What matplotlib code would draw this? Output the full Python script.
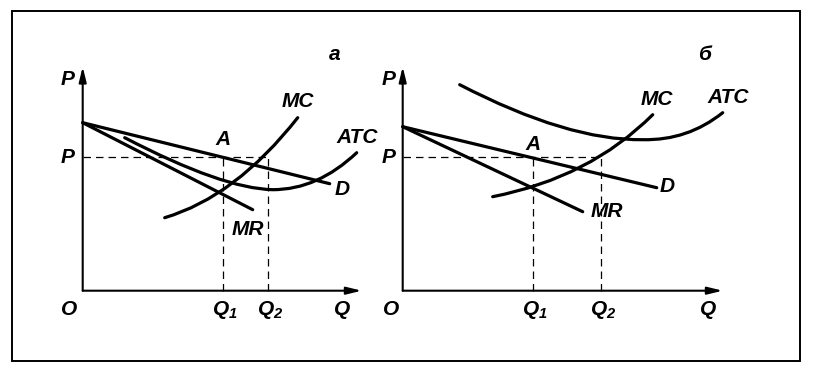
import matplotlib.pyplot as plt
from matplotlib.path import Path
from matplotlib.patches import PathPatch, Rectangle

# Монополистическая конкуренция: а) прибыль, б) убытки
# координаты кривых в условных единицах (Q, P), начало осей в точке O

# панель а
d_a = [(0, 168), (247, 107)]
mr_a = [(0, 168), (170, 81)]
mc_a = [(82, 73), (153, 94), (215, 173)]            # квадратичная Безье
atc_a = [(42, 153), (140, 102), (190, 101), (235, 101), (274, 138)]
p_a = 134
q1_a, q2_a = 140, 185
qmax_a, pmax_a = 279, 224

# панель б
d_b = [(0, 164), (254, 103)]
mr_b = [(0, 164), (180, 79)]
mc_b = [(90, 94), (187, 113), (250, 176)]
atc_b = [(57, 206), (165, 150), (240, 151), (285, 150), (320, 178)]
p_b = 134
q1_b, q2_b = 130, 198
qmax_b, pmax_b = 320, 224

# подписи: текст, Q, P
labels_a = [("а", 252, 236), ("P", -15, 211), ("P", -15, 133), ("O", -14, -19),
            ("$Q_1$", q1_a + 2, -19), ("$Q_2$", q2_a + 2, -19), ("Q", 259, -19),
            ("A", 140, 151), ("MC", 215, 189), ("ATC", 274, 153),
            ("D", 259, 101), ("MR", 165, 61)]
labels_b = [("б", 302, 236), ("P", -14, 211), ("P", -14, 133), ("O", -12, -19),
            ("$Q_1$", q1_b + 2, -19), ("$Q_2$", q2_b + 2, -19), ("Q", 305, -19),
            ("A", 130, 146), ("MC", 254, 191), ("ATC", 325, 193),
            ("D", 264, 104), ("MR", 204, 79)]

W, H = 819, 375
plt.rcParams['font.family'] = ['Liberation Sans', 'DejaVu Sans']
plt.rcParams['mathtext.fontset'] = 'custom'
plt.rcParams['mathtext.it'] = 'Liberation Sans:italic:bold'
plt.rcParams['mathtext.rm'] = 'Liberation Sans:italic:bold'

fig = plt.figure(figsize=(W / 100, H / 100), dpi=100)
fig.add_artist(Rectangle((12 / W, (H - 361) / H), 788 / W, 350 / H,
                         transform=fig.transFigure, fill=False, lw=1.4, ec='black'))

CURVE_LW = 2.3


def bezier(ax, pts):
    # pts: start, (ctrl, end) ...
    codes = [Path.MOVETO] + [Path.CURVE3] * (len(pts) - 1)
    ax.add_patch(PathPatch(Path(pts, codes), fill=False, lw=CURVE_LW,
                           ec='black', capstyle='round'))


def panel(ox, oy, d, mr, mc, atc, p, q1, q2, qmax, pmax, labels):
    ax = fig.add_axes([0, 0, 1, 1])
    ax.set_xlim(-ox, W - ox)
    ax.set_ylim(-(H - oy), oy)
    ax.axis('off')
    ax.patch.set_alpha(0)

    arrow = dict(arrowstyle='-|>,head_length=0.9,head_width=0.22', lw=1.5,
                 color='black', shrinkA=0, shrinkB=0)
    ax.annotate('', xy=(0, pmax), xytext=(0, 0), arrowprops=arrow)
    ax.annotate('', xy=(qmax, 0), xytext=(0, 0), arrowprops=arrow)

    dash = dict(color='black', lw=0.9, linestyle=(0, (6, 4)))
    ax.plot([0, q2], [p, p], **dash)
    ax.plot([q1, q1], [0, p], **dash)
    ax.plot([q2, q2], [0, p], **dash)

    for line in (d, mr):
        ax.plot([pt[0] for pt in line], [pt[1] for pt in line], color='black',
                lw=CURVE_LW, solid_capstyle='round')
    bezier(ax, mc)
    bezier(ax, atc)

    for txt, x, y in labels:
        ax.text(x, y, txt, ha='center', va='center', fontsize=15,
                style='italic', fontweight='bold', color='black')


panel(82.7, 290.7, d_a, mr_a, mc_a, atc_a, p_a, q1_a, q2_a, qmax_a, pmax_a, labels_a)
panel(402.7, 290.7, d_b, mr_b, mc_b, atc_b, p_b, q1_b, q2_b, qmax_b, pmax_b, labels_b)

fig.savefig('out.png', dpi=100)
